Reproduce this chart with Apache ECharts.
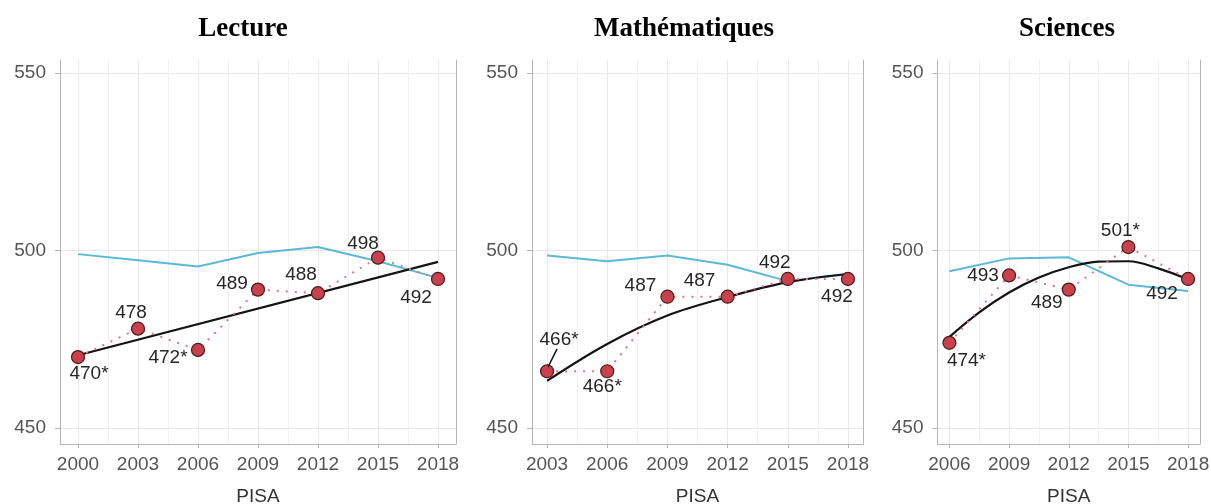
<!DOCTYPE html>
<html>
<head>
<meta charset="utf-8">
<script src="https://cdn.jsdelivr.net/npm/echarts@6/dist/echarts.min.js"></script>
<style>
  html, body { margin: 0; padding: 0; background: #fff; }
  #chart { width: 1211px; height: 504px; }
</style>
</head>
<body>
<div id="chart"></div>
<script>
// --- data ---
const panelTitles = ['Lecture', 'Mathématiques', 'Sciences'];

const lectureYears = [2000, 2003, 2006, 2009, 2012, 2015, 2018];
const lectureScores = [470, 478, 472, 489, 488, 498, 492];
const lectureSig = [true, false, true, false, false, false, false];
const lectureOcde = [499, 497.3, 495.5, 499.3, 501, 497, 492.3];
const lectureTrendYears = [2000, 2018];
const lectureTrend = [470.5, 496.8];

const mathYears = [2003, 2006, 2009, 2012, 2015, 2018];
const mathScores = [466, 466, 487, 487, 492, 492];
const mathSig = [true, true, false, false, false, false];
const mathOcde = [498.6, 497, 498.6, 496, 491.4, 493.3];
const mathTrendYears = [2003, 2006, 2009, 2012, 2015, 2018];
const mathTrend = [463.3, 473.7, 481.7, 486.9, 491.1, 493.4];

const sciYears = [2006, 2009, 2012, 2015, 2018];
const sciScores = [474, 493, 489, 501, 492];
const sciSig = [true, false, false, true, false];
const sciOcde = [494.2, 497.8, 498.1, 490.4, 488.6];
const sciTrendYears = [2006, 2007.5, 2009, 2010.5, 2012, 2013.5, 2015, 2016.5, 2018];
const sciTrend = [475.7, 482.6, 488.2, 492.4, 495.3, 496.9, 497.0, 495.0, 491.9];

const yTicks = [450, 500, 550];

// --- layout / style ---
const labelOffsets = [
  [[11, 17], [-7, -16], [-30, 8], [-26, -6], [-17, -18], [-15, -14], [-22, 19]],
  [[12, -31], [-5, 16], [-27, -11], [-28, -16], [-13, -16], [-11, 18]],
  [[17, 18], [-26, 0], [-22, 13], [-8, -16], [-26, 15]]
];
const grids = [
  { left: 60, top: 60, width: 396, height: 384, outerBoundsMode: 'none' },
  { left: 532, top: 60, width: 331, height: 384, outerBoundsMode: 'none' },
  { left: 937.5, top: 60, width: 262.5, height: 384, outerBoundsMode: 'none' }
];
const titleX = [243, 684, 1067];
// leader line for the first Mathématiques label
const mathLeader = [[2003.05, 467.2], [2003.5, 472.3]];

const axisGrey = '#b5b5b5';
const gridGrey = '#e8e8e8';
const minorGrey = '#f0f0f0';
const tickFont = { color: '#555', fontSize: 19, fontFamily: 'Liberation Sans' };

const panels = [
  [lectureYears, lectureScores, lectureSig, lectureOcde, lectureTrendYears, lectureTrend],
  [mathYears, mathScores, mathSig, mathOcde, mathTrendYears, mathTrend],
  [sciYears, sciScores, sciSig, sciOcde, sciTrendYears, sciTrend]
];

let xAxes = [], yAxes = [], series = [], graphics = [];

panels.forEach(function (p, i) {
  const years = p[0], scores = p[1], sig = p[2], ocde = p[3], tYears = p[4], trend = p[5];
  const span = years[years.length - 1] - years[0];
  const xMin = years[0] - span * 0.05, xMax = years[years.length - 1] + span * 0.05;
  const mids = years.slice(1).map((y, k) => (y + years[k]) / 2);

  xAxes.push({
    type: 'value', gridIndex: i, min: xMin, max: xMax,
    axisLine: { show: true, lineStyle: { color: axisGrey, width: 1 } },
    axisTick: { show: true, length: 4, lineStyle: { color: axisGrey }, customValues: years },
    axisLabel: Object.assign({ customValues: years, margin: 11, formatter: (v) => String(v) }, tickFont),
    splitLine: { show: true, lineStyle: { color: gridGrey, width: 1 } },
    name: 'PISA', nameLocation: 'middle', nameGap: 43,
    nameTextStyle: { color: '#333', fontSize: 19, fontFamily: 'Liberation Sans' }
  });
  xAxes.push({
    type: 'value', gridIndex: i, min: xMin, max: xMax, position: 'bottom',
    axisLine: { show: false }, axisLabel: { show: false },
    axisTick: { show: false, customValues: mids },
    splitLine: { show: true, lineStyle: { color: minorGrey, width: 1 } }
  });
  yAxes.push({
    type: 'value', gridIndex: i, min: 445.5, max: 553.7,
    axisLine: { show: true, lineStyle: { color: axisGrey, width: 1 } },
    axisTick: { show: true, length: 5, lineStyle: { color: axisGrey }, customValues: yTicks },
    axisLabel: Object.assign({ customValues: yTicks, margin: 14 }, tickFont),
    splitLine: { show: true, lineStyle: { color: gridGrey, width: 1 } }
  });
  yAxes.push({
    type: 'value', gridIndex: i, min: 445.5, max: 553.7, position: 'right',
    axisLine: { show: true, lineStyle: { color: axisGrey, width: 1 } },
    axisTick: { show: false }, axisLabel: { show: false }, splitLine: { show: false }
  });

  series.push({
    type: 'line', xAxisIndex: i * 2, yAxisIndex: i * 2,
    data: years.map((y, k) => [y, ocde[k]]),
    symbol: 'none', lineStyle: { color: '#5bb9d5', width: 2 }, z: 2
  });
  series.push({
    type: 'line', xAxisIndex: i * 2, yAxisIndex: i * 2,
    data: tYears.map((y, k) => [y, trend[k]]),
    smooth: 0.35, symbol: 'none', lineStyle: { color: '#141414', width: 2.2 }, z: 3
  });
  const red = {
    type: 'line', xAxisIndex: i * 2, yAxisIndex: i * 2,
    data: years.map((y, k) => ({
      value: [y, scores[k]],
      label: { offset: labelOffsets[i][k] }
    })),
    symbol: 'circle', symbolSize: 13, showSymbol: true,
    itemStyle: { color: '#c8414b', borderColor: '#4d1a1d', borderWidth: 1.2 },
    lineStyle: { color: '#e07680', width: 2, type: [2, 7] },
    label: {
      show: true, position: 'inside', color: '#262626', fontSize: 19,
      fontFamily: 'Liberation Sans',
      formatter: (prm) => scores[prm.dataIndex] + (sig[prm.dataIndex] ? '*' : '')
    },
    z: 4
  };
  if (i === 1) {
    red.markLine = {
      silent: true, symbol: 'none', label: { show: false },
      lineStyle: { color: '#141414', width: 1.5, type: 'solid' },
      data: [[{ coord: mathLeader[0] }, { coord: mathLeader[1] }]]
    };
  }
  series.push(red);

  graphics.push({
    type: 'text', x: titleX[i], y: 29,
    style: {
      text: panelTitles[i], align: 'center', verticalAlign: 'middle',
      font: 'bold 27px "Liberation Serif"', fill: '#000'
    }
  });
});

const chart = echarts.init(document.getElementById('chart'));
chart.setOption({
  animation: false,
  backgroundColor: '#fff',
  grid: grids,
  xAxis: xAxes,
  yAxis: yAxes,
  series: series,
  graphic: graphics
});
</script>
</body>
</html>
